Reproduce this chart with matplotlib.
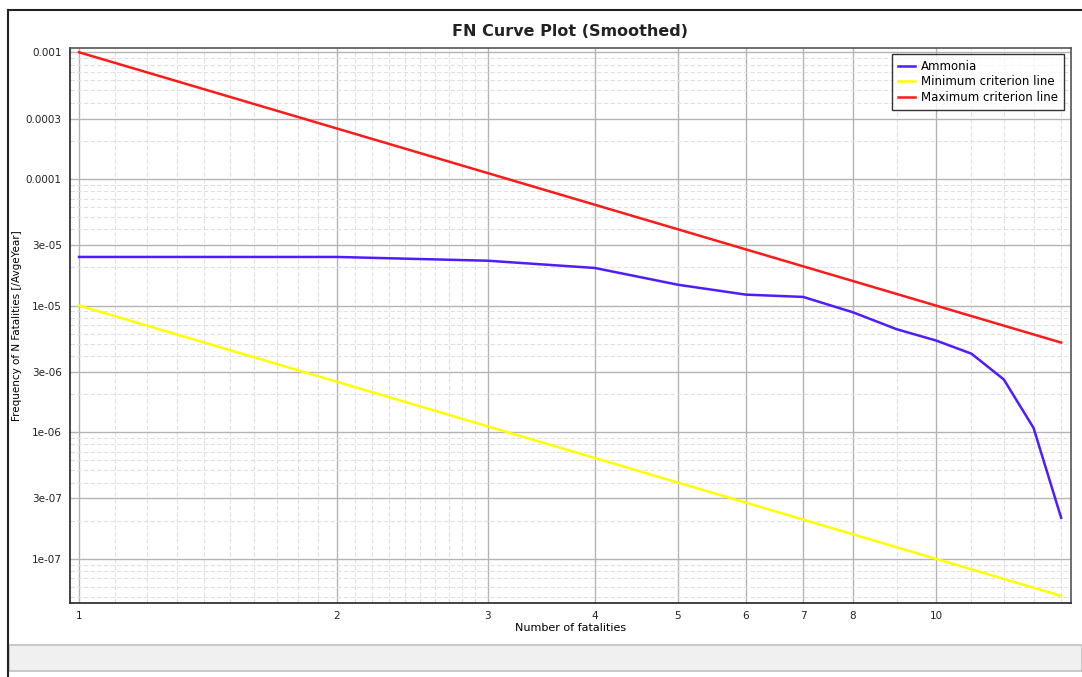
import matplotlib
matplotlib.use("Agg")
import matplotlib.pyplot as plt
from matplotlib.lines import Line2D
from matplotlib.patches import Rectangle
from matplotlib.ticker import FixedLocator, NullFormatter

# Données
n_fatalities = [1, 2, 3, 4, 5, 6, 7, 8, 9, 10, 11, 12, 13, 14]
ammonia = [2.42e-5, 2.42e-5, 2.26e-5, 1.98e-5, 1.46e-5, 1.22e-5, 1.17e-5,
           8.85e-6, 6.5e-6, 5.3e-6, 4.17e-6, 2.61e-6, 1.08e-6, 2.11e-7]
crit_n = [1, 14]
min_criterion = [1e-5, 5.1e-8]
max_criterion = [1e-3, 5.1e-6]

x_major = [1, 2, 3, 4, 5, 6, 7, 8, 10]
x_minor = [1.1, 1.2, 1.3, 1.4, 1.5, 1.6, 1.7, 1.8, 1.9,
           2.1, 2.2, 2.3, 2.4, 2.5, 2.6, 2.7, 2.8, 2.9, 9, 11, 12, 13, 14]
y_major = [1e-7, 3e-7, 1e-6, 3e-6, 1e-5, 3e-5, 1e-4, 3e-4, 1e-3]
y_labels = ["1e-07", "3e-07", "1e-06", "3e-06", "1e-05", "3e-05", "0.0001", "0.0003", "0.001"]

W, H = 1082, 677
fig = plt.figure(figsize=(W / 100, H / 100), dpi=100)

# cadre de la fenêtre
fig.add_artist(Line2D([8 / W, 1], [1 - 10 / H, 1 - 10 / H], color="#222222", lw=1.5))
fig.add_artist(Line2D([8 / W, 8 / W], [0, 1 - 10 / H], color="#222222", lw=1.5))
fig.add_artist(Rectangle((9 / W, 6 / H), 1 - 9 / W, 26 / H, facecolor="#f0f0f0",
                         edgecolor="#c0c0c0", lw=1.2))

ax = fig.add_axes([70 / W, 1 - 603 / H, 1000.6 / W, 555.3 / H])
ax.set_xscale("log")
ax.set_yscale("log")

ax.plot(n_fatalities, ammonia, color="#4f1cff", lw=1.8, label="Ammonia")
ax.plot(crit_n, min_criterion, color="#ffff00", lw=1.8, label="Minimum criterion line")
ax.plot(crit_n, max_criterion, color="#ff1a1a", lw=1.8, label="Maximum criterion line")

ax.set_xlim(0.976, 14.36)
ax.set_ylim(4.48e-8, 1.087e-3)

ax.set_xticks(x_major)
ax.set_xticklabels([str(v) for v in x_major])
ax.xaxis.set_minor_locator(FixedLocator(x_minor))
ax.xaxis.set_minor_formatter(NullFormatter())
ax.set_yticks(y_major)
ax.set_yticklabels(y_labels)
y_minor = [m * 10.0 ** e for e in range(-8, -2) for m in (2, 4, 5, 6, 7, 8, 9)]
ax.yaxis.set_minor_locator(FixedLocator(y_minor))
ax.yaxis.set_minor_formatter(NullFormatter())

ax.tick_params(which="both", length=0, labelsize=7.5, colors="#222222")
ax.tick_params(axis="x", pad=6)
ax.tick_params(axis="y", pad=6)

ax.grid(which="major", color="#b4b4b4", lw=1.0, ls="-")
ax.grid(which="minor", color="#e0e0e0", lw=0.8, ls=(0, (4, 2)))
ax.set_axisbelow(True)

for s in ax.spines.values():
    s.set_color("#555555")
    s.set_linewidth(1.2)
ax.spines["left"].set_color("#222222")
ax.spines["bottom"].set_color("#222222")

ax.set_xlabel("Number of fatalities", fontsize=8)
ax.xaxis.set_label_coords(0.5, -0.036)
ax.set_ylabel("Frequency of N Fatalities [/AvgeYear]", fontsize=7.5)
ax.yaxis.set_label_coords(-0.048, 0.5)
fig.text(570 / W, 1 - 31 / H, "FN Curve Plot (Smoothed)", ha="center", va="center",
         fontsize=11.5, fontweight="bold", color="#222222")

leg = ax.legend(loc="upper right", fontsize=8.5, frameon=True, fancybox=False,
                edgecolor="black", handlelength=1.45, handletextpad=0.5,
                labelspacing=0.2, borderpad=0.5, borderaxespad=0.55)
leg.get_frame().set_linewidth(1.0)

fig.savefig("out.png", dpi=100)
